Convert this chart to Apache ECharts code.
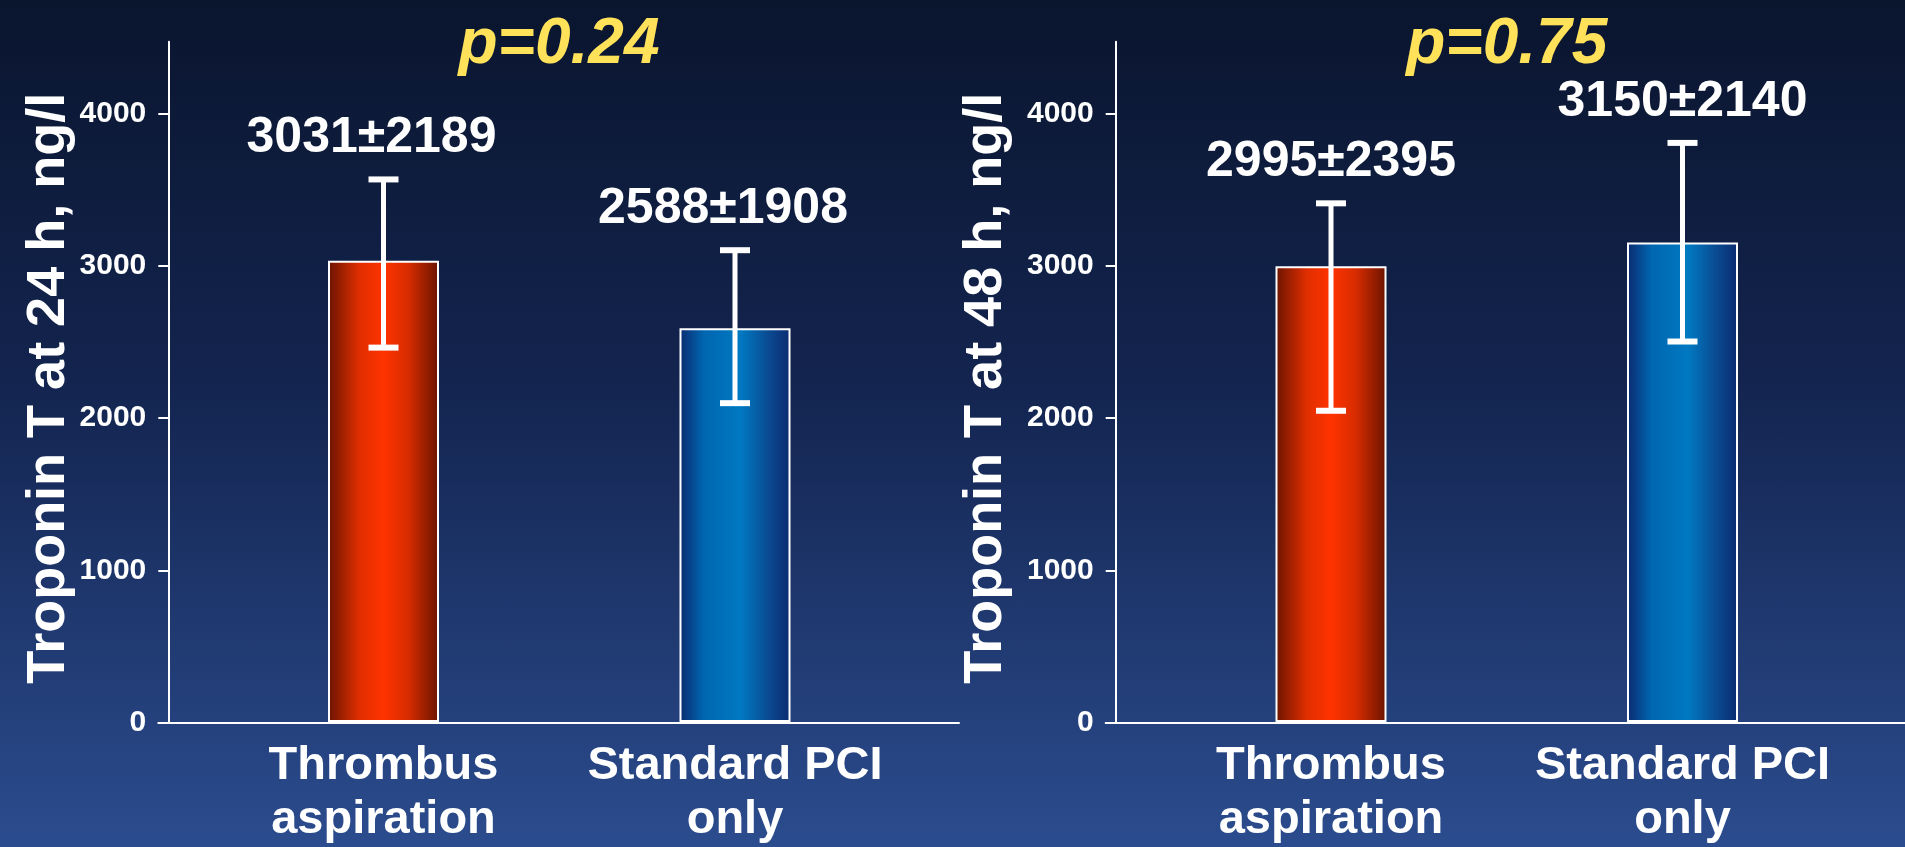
<!DOCTYPE html>
<html>
<head>
<meta charset="utf-8">
<script src="https://cdn.jsdelivr.net/npm/echarts@6/dist/echarts.min.js"></script>
<style>
  html, body { margin: 0; padding: 0; width: 100%; height: 100%; overflow: hidden; }
  body { background: #0a152e; }
  #chart {
    width: 1905px; height: 847px;
    background: linear-gradient(to bottom, #0a152e 0%, #13244f 45%, #2b4c8e 100%);
  }
</style>
</head>
<body>
<div id="chart"></div>
<script>
// Groups on the category axis
const categories = ['Thrombus\naspiration', 'Standard PCI\nonly'];
const yTicks = [0, 1000, 2000, 3000, 4000];
const yMax = 4470;
const pValues = ['p=0.24', 'p=0.75'];
const axisTitles = ['Troponin T at 24 h, ng/l', 'Troponin T at 48 h, ng/l'];

// Troponin T at 24 h: mean, SD, whisker ends
const mean24 = [3031, 2588];
const sd24 = [2189, 1908];
const errLow24 = [2460, 2095];
const errHigh24 = [3565, 3100];

// Troponin T at 48 h: mean, SD, whisker ends
const mean48 = [2995, 3150];
const sd48 = [2395, 2140];
const errLow48 = [2045, 2500];
const errHigh48 = [3408, 3805];

const FONT = "'Liberation Sans', Arial, Helvetica, sans-serif";
const WHITE = '#ffffff';

const redFill = new echarts.graphic.LinearGradient(0, 0, 1, 0, [
  { offset: 0, color: '#6a1400' },
  { offset: 0.28, color: '#e02e00' },
  { offset: 0.5, color: '#ff3300' },
  { offset: 0.72, color: '#d82c00' },
  { offset: 1, color: '#6a1400' }
]);
const blueFill = new echarts.graphic.LinearGradient(0, 0, 1, 0, [
  { offset: 0, color: '#0b2a70' },
  { offset: 0.22, color: '#0066b0' },
  { offset: 0.55, color: '#0079c2' },
  { offset: 0.8, color: '#0a4b92' },
  { offset: 1, color: '#0b2a70' }
]);

// Panel layout: the frame grid carries the visible axes, the plot grid carries the bars
const panels = [
  { frame: { left: 158.3, right: 946 }, plot: { left: 207.75, right: 994.25 }, nameGap: 90, titleX: 559, labelShift: -12 },
  { frame: { left: 1105.7, right: 0 }, plot: { left: 1155.25, right: 46.75 }, nameGap: 103, titleX: 1506.75, labelShift: 0 }
];
const series = [
  { mean: mean24, sd: sd24, lo: errLow24, hi: errHigh24 },
  { mean: mean48, sd: sd48, lo: errLow48, hi: errHigh48 }
];

const grid = [], xAxis = [], yAxis = [], allSeries = [], titles = [];
const TOP = 41.7, BOTTOM = 124;

panels.forEach((p, k) => {
  const fi = k * 2, pi = k * 2 + 1;
  grid.push({ left: p.frame.left, right: p.frame.right, top: TOP, bottom: BOTTOM });
  grid.push({ left: p.plot.left, right: p.plot.right, top: TOP, bottom: BOTTOM });

  xAxis.push({
    gridIndex: fi, type: 'value', min: 0, max: 1,
    axisLine: { show: true, onZero: false, lineStyle: { color: WHITE, width: 2 } },
    axisTick: { show: false }, axisLabel: { show: false }, splitLine: { show: false }
  });
  xAxis.push({
    gridIndex: pi, type: 'category', data: categories,
    axisLine: { show: false }, axisTick: { show: false }, splitLine: { show: false },
    axisLabel: {
      interval: 0, margin: 17, color: WHITE, fontFamily: FONT, fontWeight: 'bold',
      fontSize: 47, lineHeight: 54
    }
  });

  yAxis.push({
    gridIndex: fi, type: 'value', min: 0, max: yMax, interval: 1000, offset: -10,
    name: axisTitles[k], nameLocation: 'middle', nameGap: p.nameGap,
    nameTextStyle: {
      color: WHITE, fontFamily: FONT, fontWeight: 'bold', fontSize: 54,
      padding: [0, 12, 0, 0]
    },
    axisLine: { show: true, onZero: false, lineStyle: { color: WHITE, width: 2 } },
    axisTick: { show: true, length: 10, customValues: yTicks, lineStyle: { color: WHITE, width: 2 } },
    axisLabel: {
      customValues: yTicks, margin: 22, color: WHITE, fontFamily: FONT,
      fontWeight: 'bold', fontSize: 30, formatter: (v) => String(v)
    },
    splitLine: { show: false }
  });
  yAxis.push({ gridIndex: pi, type: 'value', min: 0, max: yMax, show: false, splitLine: { show: false } });

  const s = series[k];
  const labels = s.mean.map((m, i) => m + '±' + s.sd[i]);

  allSeries.push({
    type: 'bar', xAxisIndex: pi, yAxisIndex: pi, barWidth: 111,
    data: s.mean.map((v, i) => ({
      value: v,
      itemStyle: { color: i === 0 ? redFill : blueFill, borderColor: WHITE, borderWidth: 2 }
    })),
    silent: true
  });

  allSeries.push({
    type: 'custom', xAxisIndex: pi, yAxisIndex: pi, silent: true, z: 5,
    data: s.lo.map((lo, i) => [i, lo, s.hi[i]]),
    renderItem: (params, api) => {
      const idx = api.value(0);
      const top = api.coord([idx, api.value(2)]);
      const bot = api.coord([idx, api.value(1)]);
      const half = 15;
      const line = { stroke: WHITE, lineWidth: 5 };
      const cap = { stroke: WHITE, lineWidth: 6 };
      return {
        type: 'group',
        children: [
          { type: 'line', shape: { x1: top[0], y1: top[1], x2: bot[0], y2: bot[1] }, style: line },
          { type: 'line', shape: { x1: top[0] - half, y1: top[1], x2: top[0] + half, y2: top[1] }, style: cap },
          { type: 'line', shape: { x1: bot[0] - half, y1: bot[1], x2: bot[0] + half, y2: bot[1] }, style: cap },
          {
            type: 'text', x: top[0] + p.labelShift, y: top[1] - 16,
            style: {
              text: labels[params.dataIndex], fill: WHITE, align: 'center', verticalAlign: 'bottom',
              fontFamily: FONT, fontWeight: 'bold', fontSize: 50
            }
          }
        ]
      };
    }
  });

  titles.push({
    text: pValues[k], left: p.titleX, top: 13, textAlign: 'center', padding: 0,
    textStyle: { color: '#ffe25a', fontFamily: FONT, fontWeight: 'bold', fontStyle: 'italic', fontSize: 64 }
  });
});

const chart = echarts.init(document.getElementById('chart'), null, { renderer: 'canvas' });
chart.setOption({
  backgroundColor: 'transparent',
  animation: false,
  title: titles,
  grid: grid,
  xAxis: xAxis,
  yAxis: yAxis,
  series: allSeries
});
</script>
</body>
</html>
